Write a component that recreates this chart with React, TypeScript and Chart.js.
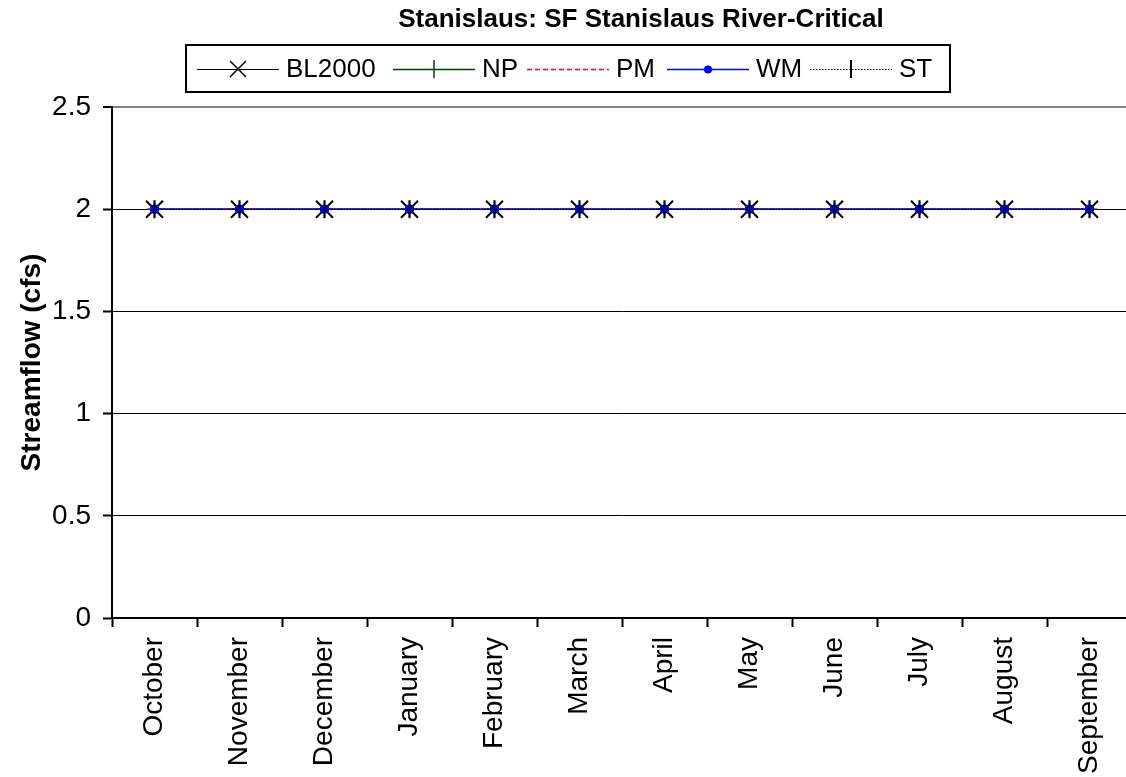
import React, { useEffect, useRef } from "react";
import { Chart, registerables } from "chart.js";

Chart.register(...registerables);

const TITLE = "Stanislaus: SF Stanislaus River-Critical";
const Y_TITLE = "Streamflow (cfs)";
const MONTHS = ["October","November","December","January","February","March","April","May","June","July","August","September"];
const BL2000 = [2,2,2,2,2,2,2,2,2,2,2,2];
const NP = [2,2,2,2,2,2,2,2,2,2,2,2];
const PM = [2,2,2,2,2,2,2,2,2,2,2,2];
const WM = [2,2,2,2,2,2,2,2,2,2,2,2];
const ST = [2,2,2,2,2,2,2,2,2,2,2,2];
const Y_MIN = 0;
const Y_MAX = 2.5;
const Y_STEP = 0.5;

const FONT = "'Liberation Sans', Arial, sans-serif";

type LegendItem = { label: string; color: string; dash: number[]; width: number; marker: string; lineStart: number };
const LEGEND: LegendItem[] = [
  { label: "BL2000", color: "#000000", dash: [], width: 1, marker: "x", lineStart: 197 },
  { label: "NP", color: "#004000", dash: [], width: 1.5, marker: "+", lineStart: 393 },
  { label: "PM", color: "#ff0000", dash: [5, 3], width: 1.5, marker: "none", lineStart: 527 },
  { label: "WM", color: "#0000ff", dash: [], width: 1.5, marker: "dot", lineStart: 667 },
  { label: "ST", color: "#000000", dash: [1.5, 1.5], width: 1, marker: "|", lineStart: 810 },
];

const decorPlugin = {
  id: "decor",
  afterDraw(chart: any) {
    const ctx = chart.ctx as CanvasRenderingContext2D;
    ctx.save();
    // title
    ctx.fillStyle = "#000";
    ctx.font = `bold 26px ${FONT}`;
    ctx.textAlign = "center";
    ctx.textBaseline = "alphabetic";
    ctx.fillText(TITLE, 641, 27);
    // legend box
    ctx.strokeStyle = "#000";
    ctx.lineWidth = 2;
    ctx.strokeRect(186, 45, 764, 47);
    const cy = 69;
    const lineLen = 82;
    ctx.font = `26px ${FONT}`;
    ctx.textAlign = "left";
    ctx.textBaseline = "middle";
    for (const it of LEGEND) {
      const x0 = it.lineStart;
      const x1 = x0 + lineLen;
      const xm = (x0 + x1) / 2;
      ctx.strokeStyle = it.color;
      ctx.lineWidth = it.width;
      ctx.setLineDash(it.dash);
      ctx.beginPath();
      ctx.moveTo(x0, cy + 0.5);
      ctx.lineTo(x1, cy + 0.5);
      ctx.stroke();
      ctx.setLineDash([]);
      ctx.lineWidth = 1.5;
      ctx.beginPath();
      if (it.marker === "x") {
        ctx.moveTo(xm - 8, cy - 8); ctx.lineTo(xm + 8, cy + 8);
        ctx.moveTo(xm + 8, cy - 8); ctx.lineTo(xm - 8, cy + 8);
        ctx.stroke();
      } else if (it.marker === "+") {
        ctx.moveTo(xm, cy - 9); ctx.lineTo(xm, cy + 9);
        ctx.stroke();
      } else if (it.marker === "|") {
        ctx.lineWidth = 2;
        ctx.moveTo(xm, cy - 9); ctx.lineTo(xm, cy + 9);
        ctx.stroke();
      } else if (it.marker === "dot") {
        ctx.fillStyle = it.color;
        ctx.arc(xm, cy + 0.5, 4, 0, Math.PI * 2);
        ctx.fill();
      }
      ctx.fillStyle = "#000";
      ctx.fillText(it.label, x1 + 7, cy + 1);
    }
    ctx.restore();
  },
};

export default function App() {
  const ref = useRef<HTMLCanvasElement>(null);
  useEffect(() => {
    if (!ref.current) return;
    const canvasH = 790;
    const chart = new Chart(ref.current, {
      type: "line",
      data: {
        labels: MONTHS,
        datasets: [
          { label: "BL2000", data: BL2000, borderColor: "#000000", borderWidth: 1, pointStyle: "crossRot", pointRadius: 12, pointBorderColor: "#000000", pointBorderWidth: 2, pointBackgroundColor: "#000000", order: 5 },
          { label: "NP", data: NP, borderColor: "#004000", borderWidth: 1, pointStyle: "cross", pointRadius: 8, pointBorderColor: "#004000", pointBorderWidth: 1.5, order: 4 },
          { label: "PM", data: PM, borderColor: "#ff0000", borderWidth: 1, borderDash: [5, 3], pointRadius: 0, order: 3 },
          { label: "WM", data: WM, borderColor: "#0000ff", borderWidth: 1.5, pointStyle: "circle", pointRadius: 4, pointBackgroundColor: "#0000ff", pointBorderColor: "#0000ff", order: 2 },
          { label: "ST", data: ST, borderColor: "#000000", borderWidth: 1, borderDash: [1.5, 1.5], pointStyle: "line", pointRotation: 90, pointRadius: 9, pointBorderColor: "#000000", pointBorderWidth: 2, order: 1 },
        ],
      },
      options: {
        animation: false,
        responsive: false,
        devicePixelRatio: 1,
        layout: { padding: { top: 107, right: 18, left: 0, bottom: 0 } },
        plugins: { legend: { display: false }, title: { display: false }, tooltip: { enabled: false } },
        elements: { line: { tension: 0 } },
        scales: {
          x: {
            type: "category",
            offset: true,
            grid: { display: true, drawOnChartArea: false, offset: true, tickLength: 9, tickColor: "#000", tickWidth: 2 },
            border: { display: true, color: "#000", width: 2 },
            ticks: { color: "#000", font: { family: FONT, size: 28 }, minRotation: 90, maxRotation: 90, padding: 10, autoSkip: false },
            afterFit: (s: any) => { s.height = canvasH - 618; },
          },
          y: {
            min: Y_MIN,
            max: Y_MAX,
            grid: {
              color: (c: any) => (c.tick && c.tick.value === Y_MAX ? "#808080" : "#000000"),
              lineWidth: (c: any) => (c.tick && c.tick.value === Y_MAX ? 2 : 1),
              tickLength: 9,
              tickColor: "#000",
              tickWidth: 2,
            },
            border: { display: true, color: "#000", width: 2 },
            ticks: { stepSize: Y_STEP, color: "#000", font: { family: FONT, size: 28 }, padding: 12, callback: (v: any) => String(v) },
            title: { display: true, text: Y_TITLE, color: "#000", font: { family: FONT, size: 28, weight: "bold" }, padding: { top: 15, bottom: 0 } },
            afterFit: (s: any) => { s.width = 112; },
          },
        },
      },
      plugins: [decorPlugin],
    });
    return () => chart.destroy();
  }, []);
  return (
    <div style={{ position: "fixed", left: 0, top: 0, width: 1126, height: 777, overflow: "hidden", background: "#fff" }}>
      <canvas ref={ref} width={1150} height={790} style={{ display: "block" }} />
    </div>
  );
}
